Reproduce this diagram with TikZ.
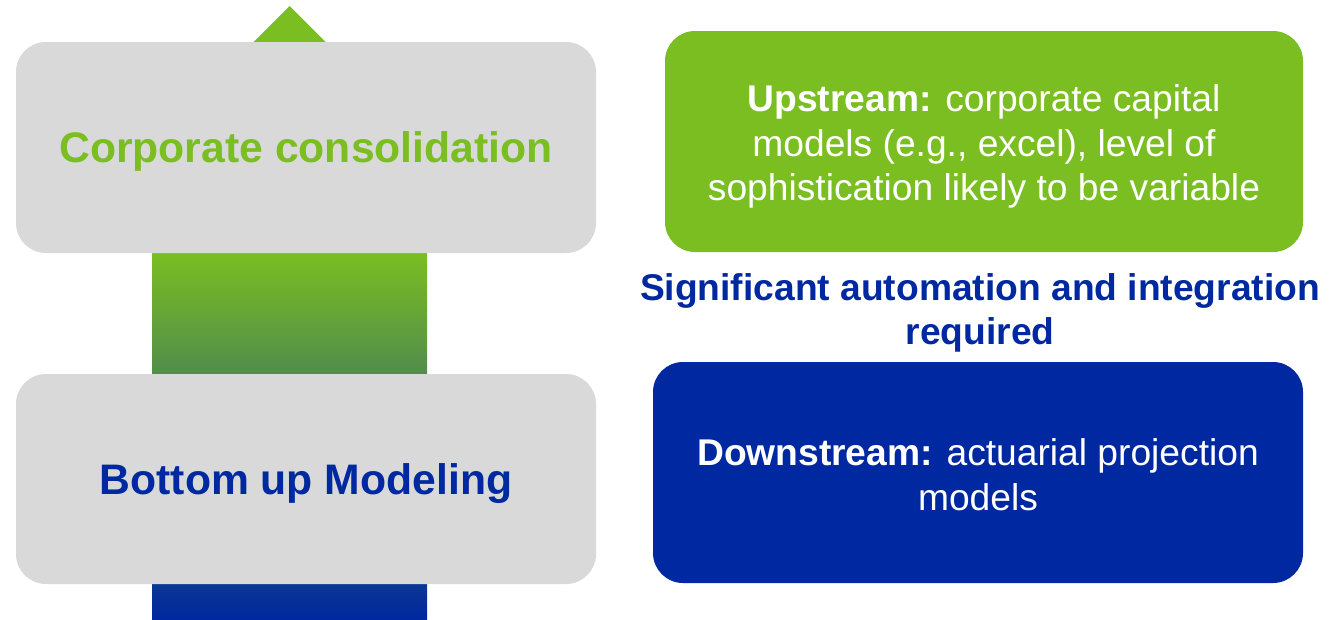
\documentclass[tikz,border=0pt]{standalone}
\usepackage{fontspec}
\setmainfont{Liberation Sans}
\definecolor{dgreen}{RGB}{122,190,34}
\definecolor{dblue}{RGB}{0,40,160}
\definecolor{dgray}{RGB}{217,217,217}
\tikzset{
  leftbox/.style={fill=dgray, draw=none, rounded corners=30pt, minimum width=580pt, minimum height=210pt, inner sep=0pt},
  rightbox/.style={draw=none, rounded corners=30pt, minimum height=221pt, inner sep=0pt},
  boxtext/.style={text=white, align=center, inner sep=0pt, font={\fontsize{37.2}{44.5}\selectfont}},
  bigtext/.style={font={\fontsize{42.7}{51}\selectfont\bfseries}, inner sep=0pt},
}
\begin{document}
\begin{tikzpicture}[x=1pt,y=-1pt]
\useasboundingbox (0,0) rectangle (1340,619);
% arrow
\coordinate (tip) at (289.5,6);
\coordinate (shaftbot) at (289.5,619);
\fill[dgreen] (tip) -- ++(144,144) -- ++(-288,0) -- cycle;
\fill[dgreen] (152,150) rectangle (427,254);
\shade[top color=dgreen, bottom color=dblue] (152,253) rectangle (427,619);
% left boxes
\node[leftbox, minimum height=211pt] (corp) at (306,147.5) {};
\node[bigtext, text=dgreen] (corpt) at ([yshift=-4pt]corp.center) {Corporate consolidation};
\node[leftbox] (bottom) at (306,479) {};
\node[bigtext, text=dblue] (bottomt) at ([yshift=-5pt]bottom.center) {Bottom up Modeling};
% right boxes
\node[rightbox, fill=dgreen, minimum width=638pt] (up) at (984,141.5) {};
\node[boxtext] (upt) at ([yshift=-5pt]up.center) {\textbf{Upstream:} corporate capital\\models (e.g., excel), level of\\sophistication likely to be variable};
\node[rightbox, fill=dblue, minimum width=650pt] (down) at (978,472.5) {};
\node[boxtext] (downt) at ([yshift=-2pt]down.center) {\textbf{Downstream:} actuarial projection\\models};
\node[align=center, text=dblue, inner sep=0pt, font={\fontsize{37.2}{44.5}\selectfont\bfseries}] (mid) at (980,313) {Significant automation and integration\\required};
\end{tikzpicture}
\end{document}
